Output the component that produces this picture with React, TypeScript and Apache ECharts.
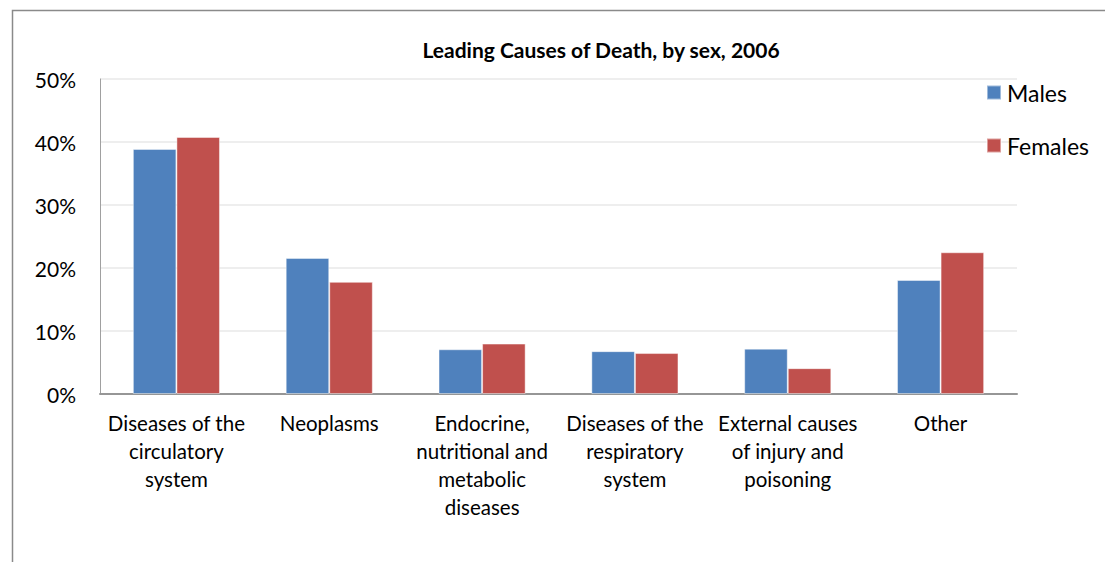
import React, { useEffect, useRef } from "react";
import * as echarts from "echarts";

const categories = [
  "Diseases of the\ncirculatory\nsystem",
  "Neoplasms",
  "Endocrine,\nnutritional and\nmetabolic\ndiseases",
  "Diseases of the\nrespiratory\nsystem",
  "External causes\nof injury and\npoisoning",
  "Other",
];
const males = [0.389, 0.216, 0.071, 0.068, 0.072, 0.181];
const females = [0.408, 0.178, 0.08, 0.065, 0.041, 0.225];
const seriesNames = ["Males", "Females"];
const titleText = "Leading Causes of Death, by sex, 2006";

const FONT = "Lato, 'Open Sans', sans-serif";

export default function App() {
  const ref = useRef<HTMLDivElement>(null);
  useEffect(() => {
    if (!ref.current) return;
    const chart = echarts.init(ref.current, null, { renderer: "svg" });
    chart.setOption({
      animation: false,
      backgroundColor: "#ffffff",
      textStyle: { fontFamily: FONT },
      title: {
        text: titleText,
        left: 596,
        textAlign: "center",
        top: 34,
        textStyle: { fontFamily: FONT, fontSize: 21, fontWeight: "bold", color: "#000" },
      },
      legend: {
        orient: "vertical",
        left: 986,
        top: 81,
        padding: 0,
        itemWidth: 14,
        itemHeight: 14,
        itemGap: 30,
        icon: "rect",
        textStyle: { fontFamily: FONT, fontSize: 23, color: "#000", padding: [0, 0, 0, 1] },
        data: seriesNames,
      },
      graphic: [
        {
          type: "rect",
          shape: { x: 12.5, y: 10.5, width: 1120, height: 600 },
          style: { fill: "none", stroke: "#8a8a8a", lineWidth: 1.5 },
          silent: true,
        },
      ],
      grid: { left: 100, right: 88, top: 79, bottom: 168, containLabel: false },
      xAxis: {
        type: "category",
        data: categories,
        axisLine: { show: true, lineStyle: { color: "#969696", width: 2 } },
        axisTick: { show: false },
        axisLabel: {
          interval: 0,
          margin: 15,
          fontFamily: FONT,
          fontSize: 20.5,
          lineHeight: 28,
          color: "#000",
          align: "center",
        },
      },
      yAxis: {
        type: "value",
        min: 0,
        max: 0.5,
        interval: 0.1,
        axisLine: { show: true, lineStyle: { color: "#a0a0a0", width: 1 } },
        axisTick: { show: false },
        splitLine: { lineStyle: { color: "#eeeeee", width: 2 } },
        axisLabel: {
          margin: 24,
          fontFamily: FONT,
          fontSize: 21,
          color: "#000",
          formatter: (v: number) => `${Math.round(v * 100)}%`,
        },
      },
      series: [
        {
          name: seriesNames[0],
          type: "bar",
          data: males,
          barGap: "0%",
          barCategoryGap: "43%",
          itemStyle: { color: "#4F81BD", borderColor: "rgba(255,255,255,0.45)", borderWidth: 1 },
        },
        {
          name: seriesNames[1],
          type: "bar",
          data: females,
          barGap: "0%",
          barCategoryGap: "43%",
          itemStyle: { color: "#C0504D", borderColor: "rgba(255,255,255,0.45)", borderWidth: 1 },
        },
      ],
    });
    return () => chart.dispose();
  }, []);
  return (
    <div
      ref={ref}
      style={{ position: "absolute", left: 0, top: 0, width: 1105, height: 562 }}
    />
  );
}
